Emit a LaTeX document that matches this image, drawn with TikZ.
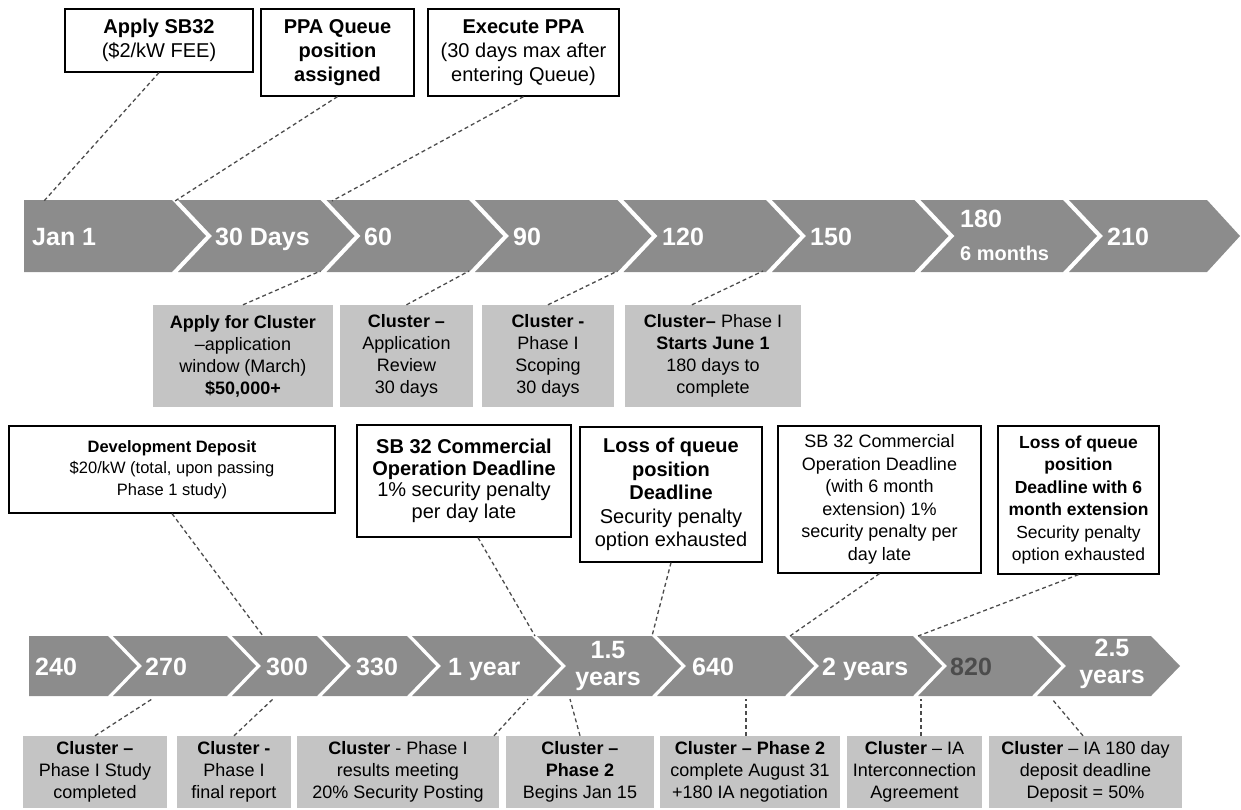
\documentclass[tikz,border=0pt]{standalone}
\usepackage{fontspec}
\setmainfont{Liberation Sans}

\definecolor{chevgray}{gray}{0.55}
\definecolor{boxgray}{gray}{0.77}
\definecolor{leadgray}{gray}{0.3}

\begin{document}
\begin{tikzpicture}[x=1pt,y=-1pt,
  chev/.style={fill=chevgray},
  daylabel/.style={text=white,font=\bfseries\fontsize{25}{27}\selectfont,anchor=base west,inner sep=0pt},
  topbox/.style={draw=black,line width=1.2pt,fill=white,inner sep=0pt,align=center},
  graybox/.style={fill=boxgray,inner sep=0pt,align=center,font=\fontsize{18}{22}\selectfont},
  leader/.style={draw=leadgray,line width=1.3pt,dash pattern=on 4pt off 3pt}]
\useasboundingbox (0,0) rectangle (1241,809);

\fill[chev] (24,200)--(172,200)--(206,236)--(172,272)--(24,272)--cycle;
\fill[chev] (178,200)--(320.5,200)--(354.5,236)--(320.5,272)--(178,272)--(212,236)--cycle;
\fill[chev] (326.5,200)--(469,200)--(503,236)--(469,272)--(326.5,272)--(360.5,236)--cycle;
\fill[chev] (475,200)--(617.5,200)--(651.5,236)--(617.5,272)--(475,272)--(509,236)--cycle;
\fill[chev] (623.5,200)--(766,200)--(800,236)--(766,272)--(623.5,272)--(657.5,236)--cycle;
\fill[chev] (772,200)--(914.5,200)--(948.5,236)--(914.5,272)--(772,272)--(806,236)--cycle;
\fill[chev] (920.5,200)--(1063,200)--(1097,236)--(1063,272)--(920.5,272)--(954.5,236)--cycle;
\fill[chev] (1069,200)--(1207,200)--(1240,236)--(1207,272)--(1069,272)--(1103,236)--cycle;

\fill[chev] (29,636)--(108,636)--(137,666)--(108,696)--(29,696)--cycle;
\fill[chev] (113,636)--(227,636)--(256,666)--(227,696)--(113,696)--(142,666)--cycle;
\fill[chev] (232,636)--(317,636)--(346,666)--(317,696)--(232,696)--(261,666)--cycle;
\fill[chev] (322,636)--(407,636)--(436,666)--(407,696)--(322,696)--(351,666)--cycle;
\fill[chev] (412,636)--(532,636)--(561,666)--(532,696)--(412,696)--(441,666)--cycle;
\fill[chev] (537,636)--(652,636)--(681,666)--(652,696)--(537,696)--(566,666)--cycle;
\fill[chev] (657,636)--(785,636)--(814,666)--(785,696)--(657,696)--(686,666)--cycle;
\fill[chev] (790,636)--(913,636)--(942,666)--(913,696)--(790,696)--(819,666)--cycle;
\fill[chev] (918,636)--(1032,636)--(1061,666)--(1032,696)--(918,696)--(947,666)--cycle;
\fill[chev] (1037,636)--(1151,636)--(1180,666)--(1151,696)--(1037,696)--(1066,666)--cycle;

\node[daylabel] (jan) at (32,245) {Jan 1};
\node[daylabel] (d30) at (215,245) {30 Days};
\node[daylabel] (d60) at (364,245) {60};
\node[daylabel] (d90) at (513,245) {90};
\node[daylabel] (d120) at (662,245) {120};
\node[daylabel] (d150) at (810,245) {150};
\node[daylabel] (d180) at (960,227) {180};
\node[daylabel,font=\bfseries\fontsize{20}{22}\selectfont] (m6) at (960,260) {6 months};
\node[daylabel] (d210) at (1107,245) {210};

\node[daylabel] (d240) at (35,675) {240};
\node[daylabel] (d270) at (145,675) {270};
\node[daylabel] (d300) at (266,675) {300};
\node[daylabel] (d330) at (356,675) {330};
\node[daylabel] (y1) at (448,675) {1 year};
\node[daylabel,anchor=center,align=center] (y15) at (608,666) {1.5\\years};
\node[daylabel] (d640) at (692,675) {640};
\node[daylabel] (y2) at (822,675) {2 years};
\node[daylabel,text=black!70] (d820) at (950,675) {820};
\node[daylabel,anchor=center,align=center] (y25) at (1112,664) {2.5\\years};

\node[topbox,minimum width=188,minimum height=63,font=\fontsize{20}{24}\selectfont] (sb) at (159,40.5) {\textbf{Apply SB32}\\(\$2/kW FEE)};
\node[topbox,minimum width=153,minimum height=87,font=\bfseries\fontsize{20}{24}\selectfont] (queue) at (337.5,52.5) {PPA Queue\\position\\assigned};
\node[topbox,minimum width=191,minimum height=87,font=\fontsize{20}{24}\selectfont] (ppa) at (523.5,52.5) {\textbf{Execute PPA}\\(30 days max after\\entering Queue)};

\node[graybox,minimum width=180,minimum height=102] (apply) at (243,356) {\textbf{Apply for Cluster}\\--application\\window (March)\\\textbf{\$50,000+}};
\node[graybox,minimum width=133,minimum height=102] (review) at (406.5,356) {\textbf{Cluster --}\\Application\\Review\\30 days};
\node[graybox,minimum width=132,minimum height=102] (scoping) at (548,356) {\textbf{Cluster -}\\Phase I\\Scoping\\30 days};
\node[graybox,minimum width=176,minimum height=102] (start) at (713,356) {\textbf{Cluster--} Phase I\\\textbf{Starts June 1}\\180 days to\\complete};

\node[topbox,minimum width=326,minimum height=87,font=\fontsize{16.5}{21.5}\selectfont] (deposit) at (172,469.5) {\textbf{Development Deposit}\\\$20/kW (total, upon passing\\Phase 1 study)};
\node[topbox,minimum width=214,minimum height=112,font=\fontsize{20}{21.5}\selectfont] (cod) at (464,481) {\textbf{SB 32 Commercial}\\\textbf{Operation Deadline}\\1\% security penalty\\per day late};
\node[topbox,minimum width=182,minimum height=135,font=\fontsize{20}{23.5}\selectfont] (loss) at (671,494.5) {\textbf{Loss of queue}\\\textbf{position}\\\textbf{Deadline}\\Security penalty\\option exhausted};
\node[topbox,minimum width=203,minimum height=147,font=\fontsize{18}{22.5}\selectfont] (codext) at (879.5,499.5) {SB 32 Commercial\\Operation Deadline\\(with 6 month\\extension) 1\%\\security penalty per\\day late};
\node[topbox,minimum width=161,minimum height=148,font=\fontsize{17.5}{22.5}\selectfont] (lossext) at (1078.5,500) {\textbf{Loss of queue}\\\textbf{position}\\\textbf{Deadline with 6}\\\textbf{month extension}\\Security penalty\\option exhausted};

\node[graybox,minimum width=144,minimum height=72] (study) at (95,772) {\textbf{Cluster --}\\Phase I Study\\completed};
\node[graybox,minimum width=114,minimum height=72] (report) at (234,772) {\textbf{Cluster -}\\Phase I\\final report};
\node[graybox,minimum width=202,minimum height=72] (meeting) at (398,772) {\textbf{Cluster} - Phase I\\results meeting\\20\% Security Posting};
\node[graybox,minimum width=148,minimum height=72] (phase2) at (580,772) {\textbf{Cluster --}\\\textbf{Phase 2}\\Begins Jan 15};
\node[graybox,minimum width=180,minimum height=72] (aug) at (750,772) {\textbf{Cluster -- Phase 2}\\complete August 31\\+180 IA negotiation};
\node[graybox,minimum width=135,minimum height=72] (ia) at (914.5,772) {\textbf{Cluster} -- IA\\Interconnection\\Agreement};
\node[graybox,minimum width=193,minimum height=72] (iadep) at (1085.5,772) {\textbf{Cluster} -- IA 180 day\\deposit deadline\\Deposit = 50\%};

\coordinate (t1) at (44,201);
\coordinate (t2) at (175,201);
\coordinate (t3) at (332,201);
\coordinate (u1) at (320.5,271);
\coordinate (u2) at (469,271);
\coordinate (u3) at (617.5,271);
\coordinate (u4) at (763,271);
\coordinate (v1) at (263,636);
\coordinate (v2) at (535,636);
\coordinate (v3) at (652,636);
\coordinate (v4) at (790,636);
\coordinate (v5) at (918,636);
\coordinate (w1) at (152,699);
\coordinate (w2) at (273,699);
\coordinate (w3) at (528,699);
\coordinate (w4) at (570,699);
\coordinate (w5) at (746,699);
\coordinate (w6) at (921,699);
\coordinate (w7) at (1052,699);

\draw[leader] (sb.south) -- (t1);
\draw[leader] (queue.south) -- (t2);
\draw[leader] (ppa.south) -- (t3);
\draw[leader] (apply.north) -- (u1);
\draw[leader] (review.north) -- (u2);
\draw[leader] (scoping.north) -- (u3);
\draw[leader] ([xshift=-21pt]start.north) -- (u4);
\draw[leader] (deposit.south) -- (v1);
\draw[leader] ([xshift=14pt]cod.south) -- (v2);
\draw[leader] (loss.south) -- (v3);
\draw[leader] (codext.south) -- (v4);
\draw[leader] (lossext.south) -- (v5);
\draw[leader] (study.north) -- (w1);
\draw[leader] (report.north) -- (w2);
\draw[leader] ([xshift=96pt]meeting.north) -- (w3);
\draw[leader] (phase2.north) -- (w4);
\draw[leader] ([xshift=-4pt]aug.north) -- (w5);
\draw[leader] ([xshift=6.5pt]ia.north) -- (w6);
\draw[leader] ([xshift=-2.5pt]iadep.north) -- (w7);

\end{tikzpicture}
\end{document}
